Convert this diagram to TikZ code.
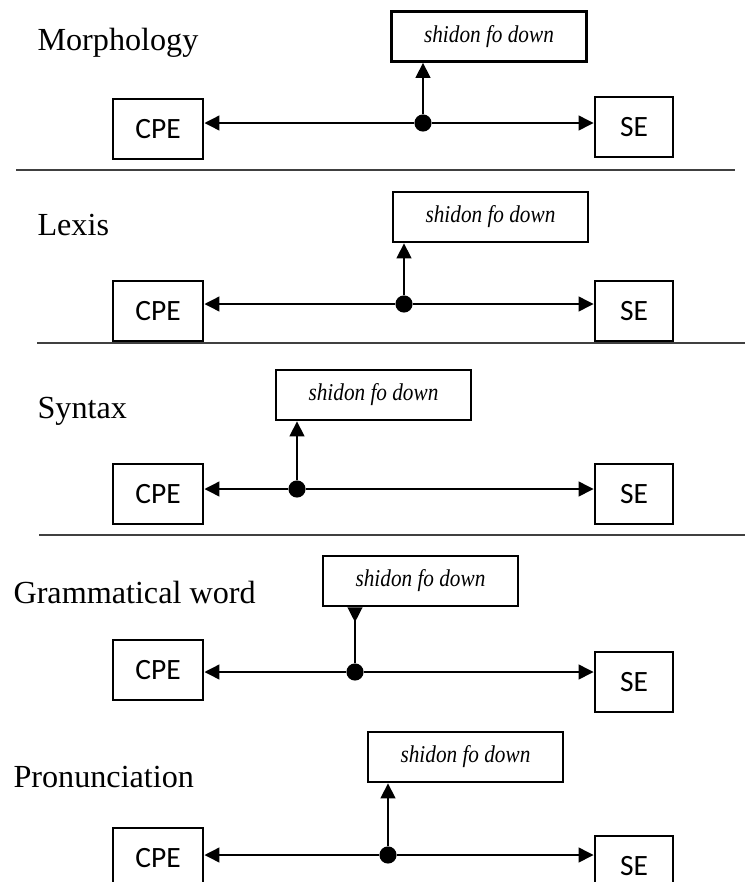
\documentclass[tikz,border=0pt]{standalone}
\usepackage{fontspec}
\usepackage{graphicx}
\setmainfont{Liberation Serif}
\newfontfamily\boxfont{Carlito}
\usetikzlibrary{arrows.meta}

\newcommand{\shtext}{\scalebox{0.88}[1]{shidon fo down}}

\tikzset{
	lab/.style={anchor=base west, inner sep=0pt, font=\fontsize{12}{14}\selectfont},
	cpebox/.style={draw, line width=1pt, minimum width=33.6pt, minimum height=22.4pt, inner sep=0pt, font=\boxfont\fontsize{11}{13}\selectfont},
	sebox/.style={cpebox, minimum width=29.1pt},
	shbox/.style={draw, line width=1pt, minimum width=72.7pt, minimum height=18.6pt, inner sep=0pt, font=\fontsize{9}{11}\selectfont\itshape},
	dot/.style={circle, fill, inner sep=0pt, minimum size=6.4pt},
	conn/.style={line width=1pt, -{Triangle[length=5.6pt,width=5.4pt]}},
	sep/.style={line width=0.6pt, black!75}
}

\begin{document}
\begin{tikzpicture}[x=0.373pt, y=-0.373pt]
	\useasboundingbox (0,0) rectangle (745,882);

	% Morphology
	\node[lab] (lab1) at (37,50) {Morphology};
	\node[shbox] (sh1) at (489,36.5) {\shtext};
	\node[cpebox] (cpe1) at (158,129) {CPE};
	\node[sebox] (se1) at (634,127) {SE};
	\node[dot] (d1) at (423,123) {};
	\draw[conn] (d1) -- (d1 -| cpe1.east);
	\draw[conn] (d1) -- (d1 -| se1.west);
	\draw[conn] (d1) -- (d1 |- sh1.south);

	% Lexis
	\node[lab] (lab2) at (37,235) {Lexis};
	\node[shbox] (sh2) at (490.5,217) {\shtext};
	\node[cpebox] (cpe2) at (158,311) {CPE};
	\node[sebox] (se2) at (634,311) {SE};
	\node[dot] (d2) at (404,304) {};
	\draw[conn] (d2) -- (d2 -| cpe2.east);
	\draw[conn] (d2) -- (d2 -| se2.west);
	\draw[conn] (d2) -- (d2 |- sh2.south);

	% Syntax
	\node[lab] (lab3) at (37,418) {Syntax};
	\node[shbox] (sh3) at (373.5,395) {\shtext};
	\node[cpebox] (cpe3) at (158,494) {CPE};
	\node[sebox] (se3) at (634,494) {SE};
	\node[dot] (d3) at (297,489) {};
	\draw[conn] (d3) -- (d3 -| cpe3.east);
	\draw[conn] (d3) -- (d3 -| se3.west);
	\draw[conn] (d3) -- (d3 |- sh3.south);

	% Grammatical word
	\node[lab] (lab4) at (13,603) {Grammatical word};
	\node[shbox] (sh4) at (420.5,581) {\shtext};
	\node[cpebox] (cpe4) at (158,670) {CPE};
	\node[sebox] (se4) at (634,682) {SE};
	\node[dot] (d4) at (355,672) {};
	\draw[conn] (d4) -- (d4 -| cpe4.east);
	\draw[conn] (d4) -- (d4 -| se4.west);
	\draw[line width=1pt, -{Triangle[reversed,length=5.6pt,width=5.4pt]}] (d4) -- (d4 |- sh4.south);

	% Pronunciation
	\node[lab] (lab5) at (13,787) {Pronunciation};
	\node[shbox] (sh5) at (465.5,757) {\shtext};
	\node[cpebox] (cpe5) at (158,858) {CPE};
	\node[sebox] (se5) at (634,866) {SE};
	\node[dot] (d5) at (388,855) {};
	\draw[conn] (d5) -- (d5 -| cpe5.east);
	\draw[conn] (d5) -- (d5 -| se5.west);
	\draw[conn] (d5) -- (d5 |- sh5.south);

	% separators
	\foreach \y/\a/\b in {170/16/735, 343/37/745, 535/39/745} {
		\draw[sep] (\a,\y) -- (\b,\y);
	}
\end{tikzpicture}
\end{document}
